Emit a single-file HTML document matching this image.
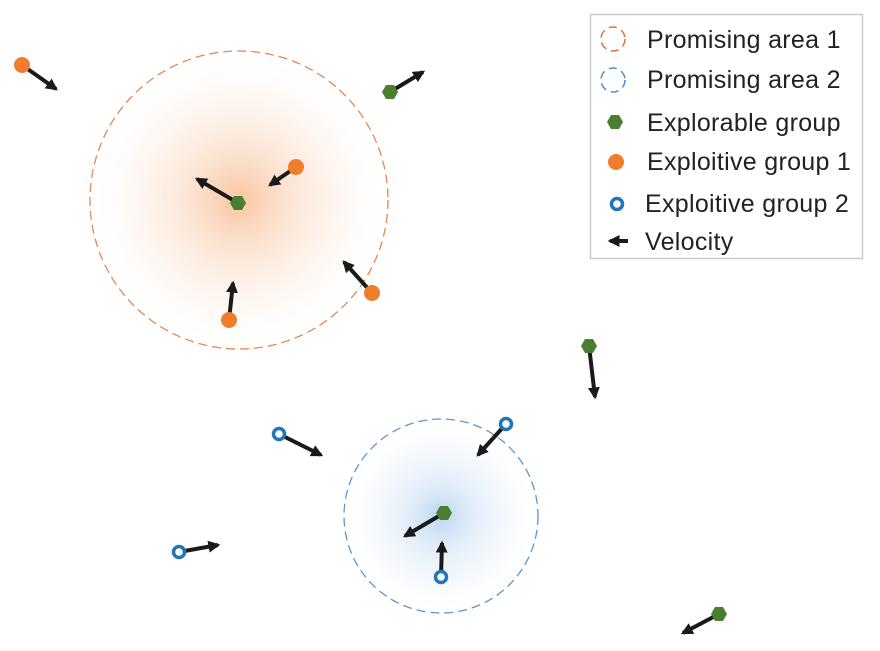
<!DOCTYPE html>
<html><head><meta charset="utf-8"><style>
body{margin:0;background:#fff}
svg{display:block}
text{font-family:"Liberation Sans",sans-serif;font-size:25px;letter-spacing:0.3px;fill:#222}
</style></head><body>
<svg width="880" height="651" viewBox="0 0 880 651">
<defs>
<radialGradient id="go"><stop offset="0" stop-color="#f9c4a0"/><stop offset="0.35" stop-color="#fbdcc6" stop-opacity="0.75"/><stop offset="0.75" stop-color="#fdf0e6" stop-opacity="0.4"/><stop offset="1" stop-color="#fff" stop-opacity="0"/></radialGradient>
<radialGradient id="gb"><stop offset="0" stop-color="#bcd6f0"/><stop offset="0.35" stop-color="#d9e8f7" stop-opacity="0.75"/><stop offset="0.75" stop-color="#edf4fb" stop-opacity="0.4"/><stop offset="1" stop-color="#fff" stop-opacity="0"/></radialGradient>
<marker id="ah" viewBox="0 0 10 10" refX="8" refY="5" markerWidth="3" markerHeight="3" orient="auto"><path d="M0,0L10,5L0,10z" fill="#1a1a1a"/></marker>
<g id="hex"><polygon points="-8,0 -4,-7 4,-7 8,0 4,7 -4,7" fill="#4a7f32"/></g>
<g id="oc"><circle r="8" fill="#ef7d2c"/></g>
<g id="bc"><circle r="5.5" fill="#fff" stroke="#2474b8" stroke-width="3.5"/></g>
</defs>
<circle cx="239" cy="200" r="149" fill="url(#go)" stroke="#e08a55" stroke-width="1.3" stroke-dasharray="9,5"/>
<circle cx="441" cy="516" r="97" fill="url(#gb)" stroke="#5b97cf" stroke-width="1.3" stroke-dasharray="9,5"/>
<g stroke="#1a1a1a" stroke-width="4" marker-end="url(#ah)">
<line x1="22" y1="65" x2="56" y2="89"/>
<line x1="390" y1="92" x2="423" y2="72"/>
<line x1="238" y1="203" x2="197" y2="179"/>
<line x1="296" y1="167" x2="270" y2="185"/>
<line x1="229" y1="320" x2="233" y2="283"/>
<line x1="372" y1="293" x2="344" y2="262"/>
<line x1="589" y1="346" x2="595" y2="397"/>
<line x1="279" y1="434" x2="321" y2="455"/>
<line x1="506" y1="424" x2="478" y2="455"/>
<line x1="444" y1="513" x2="405" y2="536"/>
<line x1="441" y1="577" x2="442" y2="543"/>
<line x1="179" y1="552" x2="218" y2="545"/>
<line x1="719" y1="614" x2="683" y2="633"/>
</g>
<use href="#oc" x="22" y="65"/><use href="#oc" x="296" y="167"/><use href="#oc" x="229" y="320"/><use href="#oc" x="372" y="293"/>
<use href="#hex" x="390" y="92"/><use href="#hex" x="238" y="203"/><use href="#hex" x="589" y="346"/><use href="#hex" x="444" y="513"/><use href="#hex" x="719" y="614"/>
<use href="#bc" x="279" y="434"/><use href="#bc" x="506" y="424"/><use href="#bc" x="441" y="577"/><use href="#bc" x="179" y="552"/>
<rect x="590.5" y="14.5" width="272" height="244" fill="#fff" stroke="#ccc" stroke-width="1.5"/>
<circle cx="613" cy="39" r="12" fill="none" stroke="#d9733a" stroke-width="1.5" stroke-dasharray="8,5"/>
<circle cx="613" cy="80" r="12" fill="none" stroke="#4a8fd0" stroke-width="1.5" stroke-dasharray="8,5"/>
<use href="#hex" x="615" y="122"/>
<use href="#oc" x="616" y="162"/>
<use href="#bc" x="617" y="204"/>
<line x1="628" y1="241" x2="610" y2="241" stroke="#1a1a1a" stroke-width="4" marker-end="url(#ah)"/>
<text x="647" y="48">Promising area 1</text>
<text x="647" y="88">Promising area 2</text>
<text x="647" y="131">Explorable group</text>
<text x="647" y="170">Exploitive group 1</text>
<text x="645" y="212">Exploitive group 2</text>
<text x="645" y="250">Velocity</text>
</svg>
</body></html>
